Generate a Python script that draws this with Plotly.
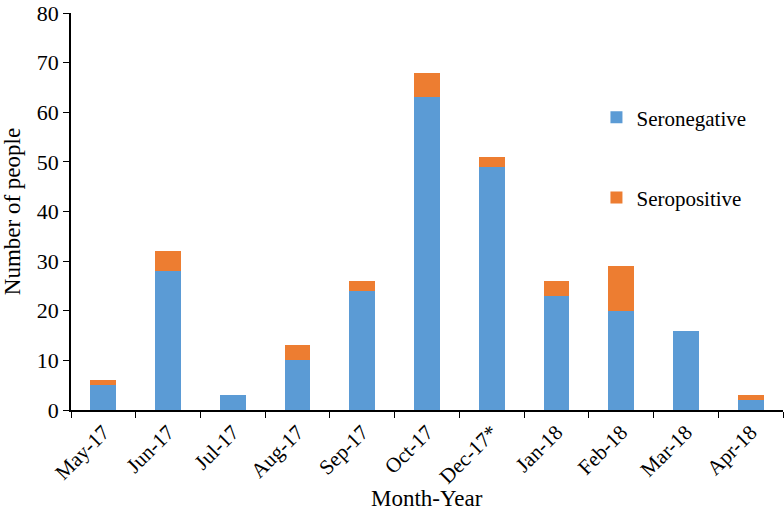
import plotly.graph_objects as go

months = ["May-17", "Jun-17", "Jul-17", "Aug-17", "Sep-17", "Oct-17",
          "Dec-17*", "Jan-18", "Feb-18", "Mar-18", "Apr-18"]
seronegative = [5, 28, 3, 10, 24, 63, 49, 23, 20, 16, 2]
seropositive = [1, 4, 0, 3, 2, 5, 2, 3, 9, 0, 1]

font_family = "Liberation Serif, Times New Roman, serif"

fig = go.Figure()
fig.add_trace(go.Bar(x=months, y=seronegative, name="Seronegative",
                     marker=dict(color="#5B9BD5", line=dict(width=0)),
                     legendgroup="a"))
fig.add_trace(go.Bar(x=months, y=seropositive, name="Seropositive",
                     marker=dict(color="#ED7D31", line=dict(width=0)),
                     legendgroup="b"))

fig.update_layout(
    width=784, height=518,
    barmode="stack", bargap=0.6,
    plot_bgcolor="white", paper_bgcolor="white",
    margin=dict(l=71, r=1, t=7, b=108),
    font=dict(family=font_family, size=22, color="black"),
    legend=dict(x=0.738, y=0.788, xanchor="left", yanchor="top",
                font=dict(size=21), tracegroupgap=50,
                itemwidth=30, bgcolor="rgba(0,0,0,0)"),
    xaxis=dict(
        tickangle=-45, showline=True, linecolor="black", linewidth=1.5,
        ticks="outside", ticklen=6, tickcolor="black", tickson="boundaries",
        tickfont=dict(size=21),
    ),
    yaxis=dict(
        title=dict(text="Number of people", font=dict(size=23), standoff=10),
        range=[0, 80], tickvals=[0, 10, 20, 30, 40, 50, 60, 70, 80],
        ticklabeloverflow="allow",
        showline=True, linecolor="black", linewidth=1.5,
        ticks="outside", ticklen=6, tickcolor="black", showgrid=False,
        zeroline=False, tickfont=dict(size=22),
    ),
    annotations=[dict(text="Month-Year", xref="paper", yref="paper",
                      x=0.5, y=-0.223, xanchor="center", yanchor="middle",
                      showarrow=False, font=dict(size=23))],
)

fig.write_html("out.html", config={"displayModeBar": False},
               post_script="document.body.style.margin='0';document.body.style.overflow='hidden';")
